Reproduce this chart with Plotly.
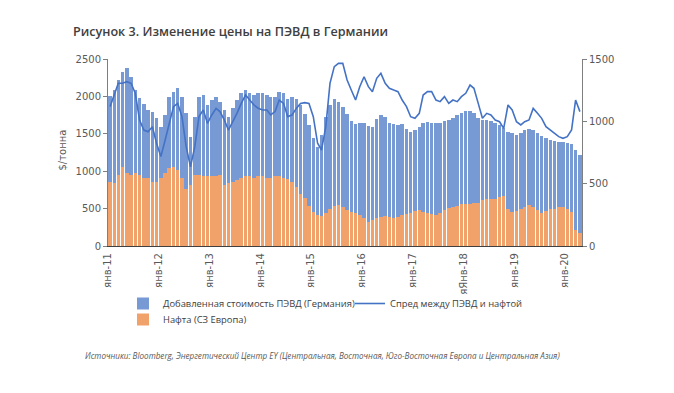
import plotly.graph_objects as go
import pandas as pd

# Monthly observations, Jan 2011 .. Apr 2020 (112 months)
months = pd.date_range("2011-01-01", periods=112, freq="MS") + pd.Timedelta(days=15)

naphtha = [
    850, 840, 950, 1060, 970, 950, 970, 950, 905, 905, 860, 860,
    905, 970, 1040, 1060, 1015, 905, 760, 815, 950, 950, 930, 930,
    930, 930, 950, 815, 840, 860, 880, 905, 930, 930, 905, 930,
    930, 905, 905, 930, 930, 905, 900, 860, 790, 700, 640, 540,
    455, 415, 395, 440, 490, 535, 550, 525, 480, 460, 440, 415,
    370, 325, 350, 370, 390, 400, 385, 370, 390, 414, 423, 437,
    472, 481, 459, 446, 428, 414, 446, 481, 504, 526, 535, 557,
    561, 561, 570, 579, 615, 633, 628, 633, 651, 668, 490, 459,
    468, 490, 526, 548, 526, 481, 446, 468, 495, 495, 517, 526,
    495, 459, 214, 178,
]

value_added = [
    1150, 1245, 1270, 1270, 1405, 1315, 1115, 1025, 1000, 915, 935, 845,
    690, 780, 955, 1005, 1095, 1090, 1015, 645, 780, 1045, 1090, 955,
    1020, 1065, 980, 1005, 890, 980, 1070, 1135, 1155, 1110, 1115, 1110,
    1110, 1115, 1090, 1065, 1130, 1135, 1060, 1130, 1170, 1190, 1130, 1080,
    995, 915, 1085, 1280, 1390, 1435, 1370, 1335, 1290, 1210, 1190, 1225,
    1280, 1275, 1240, 1330, 1360, 1320, 1255, 1260, 1230, 1216, 1147, 1088,
    1078, 1114, 1191, 1214, 1212, 1236, 1199, 1184, 1181, 1189, 1215, 1218,
    1239, 1249, 1205, 1136, 1075, 1057, 1047, 1012, 969, 907, 1030, 1046,
    1017, 1020, 1019, 1022, 1024, 1024, 1019, 972, 920, 905, 873, 859,
    885, 901, 1076, 1042,
]

spread = [
    1118, 1211, 1305, 1305, 1318, 1305, 1225, 1011, 930, 917, 957, 824,
    717, 850, 984, 1118, 1144, 1038, 797, 636, 797, 1038, 1091, 984,
    1051, 1104, 1078, 1011, 930, 997, 1064, 1144, 1211, 1171, 1131, 1104,
    1091, 1091, 1051, 1078, 1171, 1144, 1038, 1051, 1104, 1144, 1150, 1144,
    1037, 824, 770, 957, 1305, 1439, 1465, 1465, 1332, 1251, 1171, 1278,
    1358, 1278, 1238, 1345, 1385, 1305, 1265, 1251, 1238, 1171, 1118, 1037,
    1024, 1064, 1211, 1238, 1238, 1171, 1158, 1198, 1144, 1171, 1158, 1198,
    1225, 1291, 1265, 1144, 1024, 1064, 1051, 1011, 997, 944, 1131, 1091,
    997, 971, 997, 1011, 1104, 1064, 1024, 957, 931, 904, 877, 864,
    877, 931, 1171, 1078,
]

tick_dates = [f"{y}-01-01" for y in range(2011, 2021)]
tick_labels = ["янв-11", "янв-12", "янв-13", "янв-14", "янв-15",
               "янв-16", "янв-17", "яЯнв-18", "янв-19", "янв-20"]

name_va = "Добавленная стоимость ПЭВД (Германия)"
name_spread = "Спред между ПЭВД и нафтой"
name_naphtha = "Нафта (СЗ Европа)"

BLUE = "#4472C4"
ORANGE = "#ED7D31"
GRAY = "#595959"
TICKFONT = dict(family="DejaVu Sans", size=10, color=GRAY)
LEGFONT = dict(family="Open Sans", size=9.4, color="#404040")

fig = go.Figure()
fig.add_trace(go.Bar(x=months, y=naphtha, name=name_naphtha,
                     marker=dict(color=ORANGE, line=dict(width=0)), opacity=0.72,
                     legend="legend2"))
fig.add_trace(go.Bar(x=months, y=value_added, name=name_va,
                     marker=dict(color=BLUE, line=dict(width=0)), opacity=0.72,
                     legend="legend"))
fig.add_trace(go.Scatter(x=months, y=spread, name=name_spread, yaxis="y2",
                         mode="lines", line=dict(color=BLUE, width=1.6),
                         legend="legend3"))

# page body has an 8px margin: work in reference pixel coords, shifted by 8
OFF = 8
W, H = 674 - OFF, 393 - 2 * OFF
L, R, T, B = 108 - OFF, 582 - OFF, 59 - OFF, 246 - OFF
pw, ph = R - L, B - T

def px_x(x):
    return (x - OFF - L) / pw

def px_y(y):
    return (B - (y - OFF)) / ph

fig.update_layout(
    width=W, height=H,
    margin=dict(l=L, r=W - R, t=T, b=H - B, autoexpand=False),
    paper_bgcolor="white", plot_bgcolor="white",
    barmode="stack", bargap=0.1,
    showlegend=True,
    font=dict(family="DejaVu Sans", size=10, color=GRAY),
    xaxis=dict(
        type="date", range=["2011-01-01", "2020-05-01"],
        tickvals=tick_dates, ticktext=tick_labels, tickangle=-90,
        tickfont=TICKFONT, showgrid=False, zeroline=False,
        showline=True, linecolor="#404040", linewidth=1.2,
        ticks="", ticklabelstandoff=2,
    ),
    yaxis=dict(
        range=[0, 2500], tickvals=[0, 500, 1000, 1500, 2000, 2500],
        tickfont=TICKFONT, showgrid=False, zeroline=False,
        showline=True, linecolor="#7f7f7f", linewidth=1,
        ticks="outside", ticklen=4, tickcolor="#7f7f7f",
    ),
    yaxis2=dict(
        range=[0, 1500], tickvals=[0, 500, 1000, 1500],
        overlaying="y", side="right",
        tickfont=TICKFONT, showgrid=False, zeroline=False,
        showline=True, linecolor="#7f7f7f", linewidth=1,
        ticks="outside", ticklen=4, tickcolor="#7f7f7f",
    ),
    legend=dict(orientation="h", x=px_x(123), y=px_y(289), xanchor="left", yanchor="top",
                font=LEGFONT, bgcolor="rgba(0,0,0,0)", itemwidth=30, traceorder="normal"),
    legend2=dict(orientation="h", x=px_x(123), y=px_y(305), xanchor="left", yanchor="top",
                 font=LEGFONT, bgcolor="rgba(0,0,0,0)", itemwidth=30),
    legend3=dict(orientation="h", x=px_x(350), y=px_y(289), xanchor="left", yanchor="top",
                 font=LEGFONT, bgcolor="rgba(0,0,0,0)", itemwidth=30),
    title=dict(
        text="Рисунок 3. Изменение цены на ПЭВД в Германии",
        x=(73 - OFF) / W, xref="container", xanchor="left",
        y=1 - (32 - OFF) / H, yref="container", yanchor="middle",
        font=dict(family="Open Sans", size=12.6, color="#404040", weight=600),
    ),
    annotations=[
        dict(text="$/тонна", x=px_x(54), y=px_y(150), xref="paper", yref="paper",
             textangle=-90, showarrow=False, font=dict(family="DejaVu Sans", size=10, color=GRAY)),
        dict(text="Источники: Bloomberg, Энергетический Центр EY (Центральная, Восточная, "
                  "Юго-Восточная Европа и Центральная Азия)",
             x=px_x(83), y=px_y(355), xref="paper", yref="paper", xanchor="left", yanchor="middle",
             showarrow=False,
             font=dict(family="Open Sans", size=8.1, color=GRAY, style="italic")),
    ],
)

fig.write_html("out.html")
